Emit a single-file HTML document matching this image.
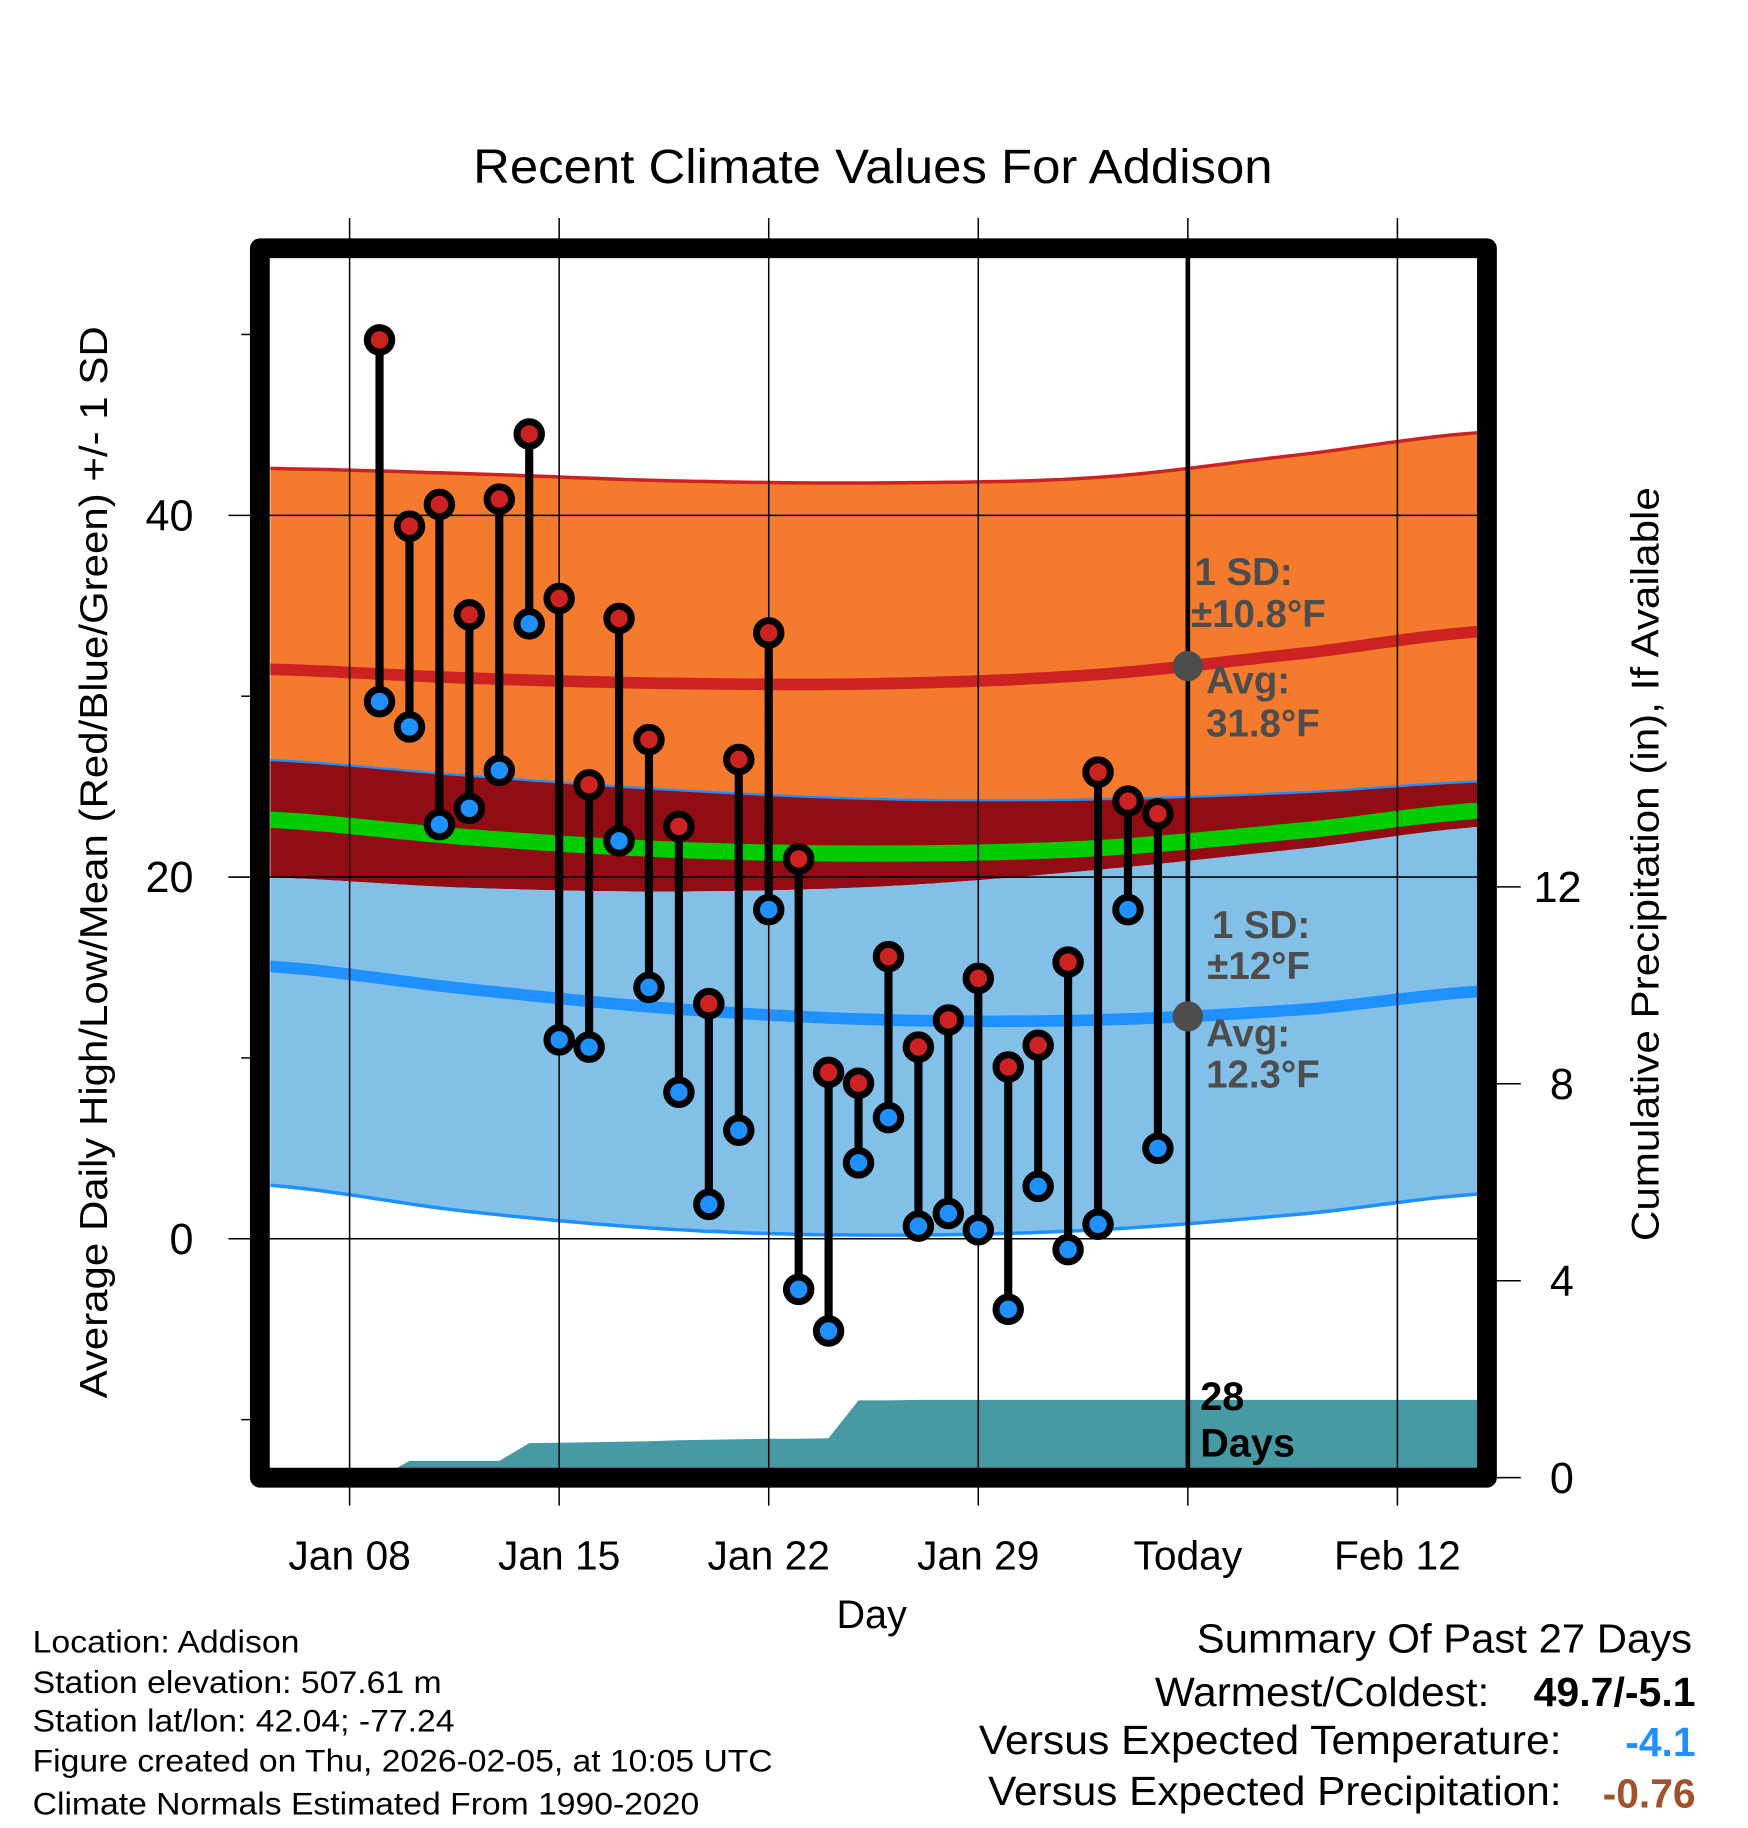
<!DOCTYPE html>
<html><head><meta charset="utf-8"><style>
html,body{margin:0;padding:0;background:#fff}
svg{display:block}
text{font-family:"Liberation Sans",Arial,sans-serif}
</style></head><body>
<svg id="chart" width="1748" height="1828" viewBox="0 0 1500 1568.6" xmlns="http://www.w3.org/2000/svg">
<defs><clipPath id="plotclip"><rect x="232" y="221" width="1036" height="1039"/></clipPath></defs>
<text x="406" y="157" font-size="41" textLength="686" lengthAdjust="spacingAndGlyphs">Recent Climate Values For Addison</text>
<g id="bands" clip-path="url(#plotclip)"></g>
<g id="grid"></g>
<g id="marks" clip-path="url(#plotclip)"></g>
<g id="axes"></g>
<g id="notes"></g>
<rect x="223" y="213" width="1053" height="1055" fill="none" stroke="#000" stroke-width="17" stroke-linejoin="round"/>
<text x="748" y="1397" font-size="34" text-anchor="middle">Day</text>
<text transform="translate(92,1200) rotate(-90)" font-size="33" textLength="920" lengthAdjust="spacingAndGlyphs">Average Daily High/Low/Mean (Red/Blue/Green) +/- 1 SD</text>
<text transform="translate(1423,1065) rotate(-90)" font-size="33" textLength="647" lengthAdjust="spacingAndGlyphs">Cumulative Precipitation (in), If Available</text>
<g font-size="27">
<text x="28" y="1418" textLength="229" lengthAdjust="spacingAndGlyphs">Location: Addison</text>
<text x="28" y="1453" textLength="351" lengthAdjust="spacingAndGlyphs">Station elevation: 507.61 m</text>
<text x="28" y="1486" textLength="362" lengthAdjust="spacingAndGlyphs">Station lat/lon: 42.04; -77.24</text>
<text x="28" y="1520" textLength="635" lengthAdjust="spacingAndGlyphs">Figure created on Thu, 2026-02-05, at 10:05 UTC</text>
<text x="28" y="1557" textLength="572" lengthAdjust="spacingAndGlyphs">Climate Normals Estimated From 1990-2020</text>
</g>
<g font-size="35">
<text x="1027" y="1418" textLength="425" lengthAdjust="spacingAndGlyphs">Summary Of Past 27 Days</text>
<text x="991" y="1464" textLength="287" lengthAdjust="spacingAndGlyphs">Warmest/Coldest:</text>
<text x="1316" y="1464" font-weight="bold" textLength="139" lengthAdjust="spacingAndGlyphs">49.7/-5.1</text>
<text x="840" y="1505" textLength="500" lengthAdjust="spacingAndGlyphs">Versus Expected Temperature:</text>
<text x="1455" y="1507" text-anchor="end" font-weight="bold" fill="#1e90ff">-4.1</text>
<text x="848" y="1549" textLength="492" lengthAdjust="spacingAndGlyphs">Versus Expected Precipitation:</text>
<text x="1455" y="1551" text-anchor="end" font-weight="bold" fill="#a0522d">-0.76</text>
</g>
</svg>
<script>
const NS="http://www.w3.org/2000/svg";
// ---- data ----
const obsDays=[9,10,11,12,13,14,15,16,17,18,19,20,21,22,23,24,25,26,27,28,29,30,31,32,33,34,35];
const highs=[49.7,39.4,40.6,34.5,40.9,44.5,35.4,25.1,34.3,27.6,22.8,13.0,26.5,33.5,21.0,9.2,8.6,15.6,10.6,12.1,14.4,9.5,10.7,15.3,25.8,24.2,23.5];
const lows=[29.7,28.3,22.9,23.8,25.9,34.0,11.0,10.6,22.0,13.9,8.1,1.9,6.0,18.2,-2.8,-5.1,4.2,6.7,0.7,1.4,0.5,-3.9,2.9,-0.6,0.8,18.2,5.0];
const precipDays=[5,9,10,11,12,13,14,15,16,17,18,19,20,21,22,23,24,25,26,27,28,29,30,31,32,33,34,35,46];
const precipCum=[0,0,0.34,0.34,0.34,0.34,0.70,0.71,0.72,0.73,0.74,0.76,0.77,0.78,0.79,0.79,0.80,1.57,1.57,1.58,1.58,1.58,1.58,1.58,1.58,1.58,1.58,1.58,1.58];
const normDays=[5,12,19,26,33,40,46];
const hiUpper=[42.6,42.3,41.9,41.8,42.1,43.4,44.6];
const hiMean=[31.5,31.0,30.7,30.7,31.2,32.4,33.6];
const hiLower=[26.5,25.6,24.8,24.3,24.3,24.7,25.3];
const loUpper=[20.0,19.4,19.2,19.5,20.4,21.6,22.8];
const loMean=[15.1,13.8,12.7,12.1,12.1,12.7,13.7];
const loLower=[3.0,1.5,0.5,0.2,0.5,1.4,2.5];
const meanT=[23.2,22.2,21.5,21.3,21.6,22.6,23.7];
const xTickDays=[8,15,22,29,36,43];
const xTickLabels=["Jan 08","Jan 15","Jan 22","Jan 29","Today","Feb 12"];
const yTicks=[0,20,40];
const yMinor=[-10,10,30,50];
const y2Ticks=[0,4,8,12];
const todayDay=36;
// ---- scales ----
const X=d=>300+(d-8)*25.69;
const Y=v=>1063-v*15.52;
const Y2=p=>1268-p*42.25;
function mk(tag,attrs,parent){const e=document.createElementNS(NS,tag);for(const k in attrs)e.setAttribute(k,attrs[k]);parent.appendChild(e);return e;}
function interp(days,vals,d){
  let i=0;while(i<days.length-2&&d>days[i+1])i++;
  const p0=vals[Math.max(i-1,0)],p1=vals[i],p2=vals[i+1],p3=vals[Math.min(i+2,vals.length-1)];
  const t=(d-days[i])/(days[i+1]-days[i]);
  return 0.5*((2*p1)+(-p0+p2)*t+(2*p0-5*p1+4*p2-p3)*t*t+(-p0+3*p1-3*p2+p3)*t*t*t);
}
function curvePts(vals){const pts=[];for(let d=5;d<=46;d+=0.25)pts.push([X(d),Y(interp(normDays,vals,d))]);return pts;}
const str=pts=>pts.map(p=>p[0].toFixed(1)+","+p[1].toFixed(1)).join(" ");
const bands=document.getElementById('bands');
function band(a,b,fill,name){const pa=curvePts(a),pb=curvePts(b).reverse();
  const e=mk('polygon',{points:str(pa.concat(pb)),fill:fill},bands);
  
  }
function line(vals,color,w,name){const e=mk('polyline',{points:str(curvePts(vals)),fill:'none',stroke:color,'stroke-width':w},bands);
  
  }
band(hiUpper,hiLower,'#f47b2e','high-sd-band');
band(hiLower,loUpper,'#920c14','overlap-band');
band(loUpper,loLower,'#82c0e8','low-sd-band');
line(hiUpper,'#cc2222',3,'high-upper-line');
line(hiLower,'#1e90ff',2,'high-lower-line');
line(loLower,'#1e90ff',3,'low-lower-line');
line(hiMean,'#cc2222',10,'high-mean-line');
line(loMean,'#1e90ff',10,'low-mean-line');
line(meanT,'#00cc00',14,'mean-temp-line');
// precip area
(function(){const pts=[[232,Y2(0)]];precipDays.forEach((d,i)=>pts.push([X(d),Y2(precipCum[i])]));pts.push([X(46),Y2(0)]);
 const e=mk('polygon',{points:str(pts),fill:'#4799a3'},bands);
 
 })();
// grid
const grid=document.getElementById('grid');
xTickDays.forEach((d,i)=>{const e=mk('line',{x1:X(d),x2:X(d),y1:187,y2:1292,stroke:'#000','stroke-width':1.3},grid);
 
 
 const t=mk('text',{x:X(d),y:1347,'font-size':35,'text-anchor':'middle'},grid);t.textContent=xTickLabels[i];
 
 });
yTicks.forEach(v=>{const e=mk('line',{x1:196,x2:1268,y1:Y(v),y2:Y(v),stroke:'#000','stroke-width':1.3},grid);
 
 
 const t=mk('text',{x:166,y:Y(v)+13,'font-size':37,'text-anchor':'end'},grid);t.textContent=v;
 
 });
yMinor.forEach(v=>{const e=mk('line',{x1:207,x2:216,y1:Y(v),y2:Y(v),stroke:'#000','stroke-width':1.3},grid);
 
 });
y2Ticks.forEach(p=>{const e=mk('line',{x1:1284,x2:1305,y1:Y2(p),y2:Y2(p),stroke:'#000','stroke-width':1.3},grid);
 
 
 const t=mk('text',{x:p<10?1330:1316,y:Y2(p)+13,'font-size':37},grid);t.textContent=p;
 
 });
// today line
(function(){const e=mk('line',{x1:X(todayDay),x2:X(todayDay),y1:221,y2:1260,stroke:'#000','stroke-width':4},grid);
 
 })();
// marks
const marks=document.getElementById('marks');
obsDays.forEach((d,i)=>{const x=X(d);
 const s=mk('line',{x1:x,x2:x,y1:Y(highs[i]),y2:Y(lows[i]),stroke:'#000','stroke-width':7},marks);
 
 });
obsDays.forEach((d,i)=>{const x=X(d);
 const h=mk('circle',{cx:x,cy:Y(highs[i]),r:10.5,fill:'#cc2222',stroke:'#000','stroke-width':6},marks);
 
 
 const l=mk('circle',{cx:x,cy:Y(lows[i]),r:10.5,fill:'#1e90ff',stroke:'#000','stroke-width':6},marks);
 
 });
// annotations
const notes=document.getElementById('notes');
const hiToday=interp(normDays,hiMean,todayDay), loToday=interp(normDays,loMean,todayDay);
[[hiToday,'high-avg-dot'],[loToday,'low-avg-dot']].forEach(a=>{const c=mk('circle',{cx:X(todayDay),cy:Y(a[0]),r:13,fill:'#4d4d4d'},notes);
 
 });
function note(x,y,txt,name,fill,size){const t=mk('text',{x:x,y:y,'font-size':size||33,'font-weight':'bold',fill:fill||'#4d4d4d'},notes);t.textContent=txt;
 
 return t;}
note(1025,502,'1 SD:','high-sd-label');
note(1022,538,'±10.8°F','high-sd-value');
note(1035,595,'Avg:','high-avg-label');
note(1035,632,'31.8°F','high-avg-value');
note(1040,805,'1 SD:','low-sd-label');
note(1036,840,'±12°F','low-sd-value');
note(1035,898,'Avg:','low-avg-label');
note(1035,933,'12.3°F','low-avg-value');
note(1030,1210,'28','days-count','#000',34);
note(1030,1250,'Days','days-label','#000',34);
</script>
</body></html>
